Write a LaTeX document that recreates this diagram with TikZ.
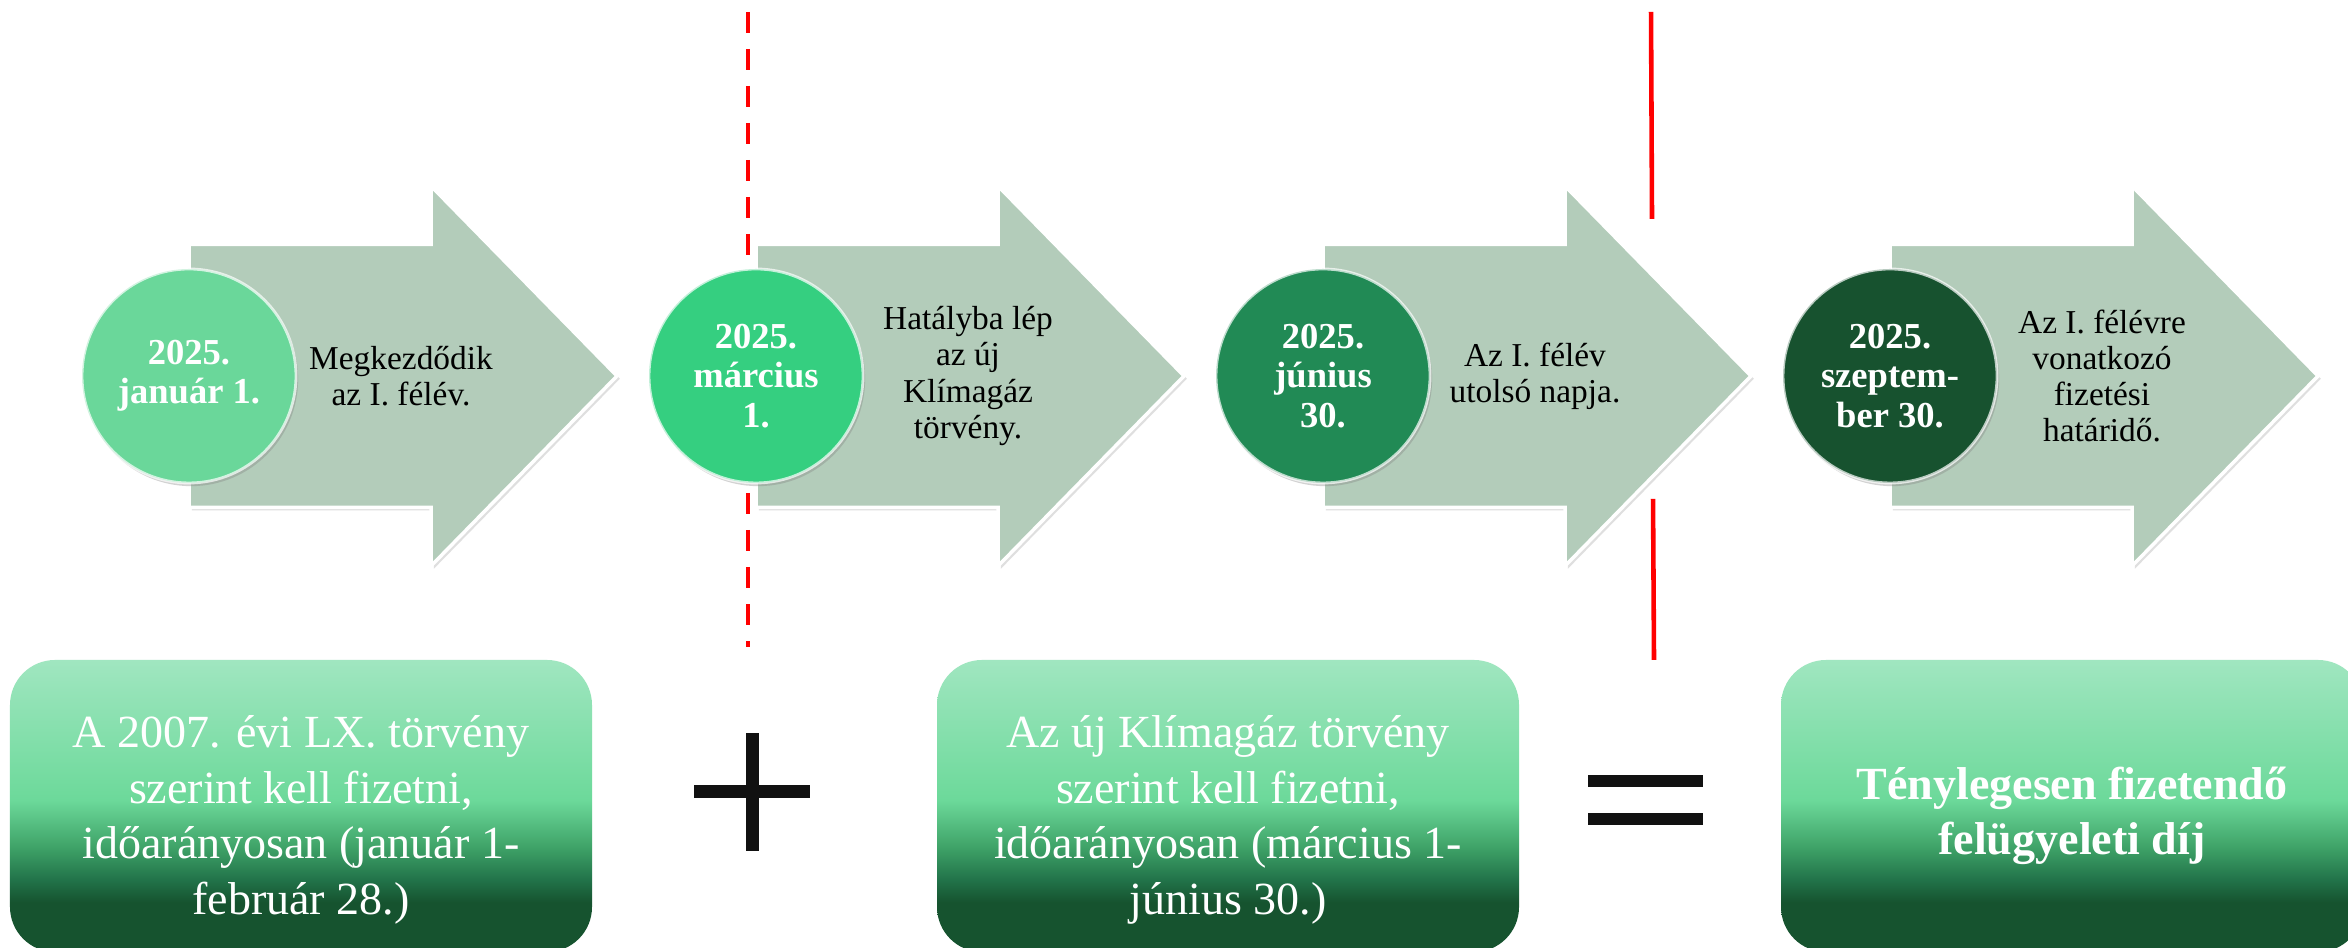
\documentclass[tikz,border=0pt]{standalone}
\usepackage{fontspec}
\setmainfont{Liberation Serif}
\usepackage{xcolor}
\usepackage{tikz}
\usetikzlibrary{
  shadows
}
\definecolor{ArrowGray}{HTML}{B3CCBA}
\definecolor{DateOne}{HTML}{6AD79A}
\definecolor{DateTwo}{HTML}{35CF80}
\definecolor{DateThree}{HTML}{218A55}
\definecolor{DateFour}{HTML}{17522F}
\definecolor{BoxLight}{HTML}{A0E6C0}
\definecolor{BoxGreen}{HTML}{6CD99A}
\definecolor{BoxMid}{HTML}{3FA368}
\definecolor{BoxDeep}{HTML}{22744A}
\definecolor{BoxDark}{HTML}{16532F}
\definecolor{MarkRed}{HTML}{FF0000}
\definecolor{SignBlack}{HTML}{111111}
\pgfdeclareverticalshading{boxfade}{100bp}{color(0bp)=(BoxDark); color(33.5bp)=(BoxDark); color(37.5bp)=(BoxDeep); color(43bp)=(BoxMid); color(51bp)=(BoxGreen); color(75bp)=(BoxLight); color(100bp)=(BoxLight)}
\tikzset{
  stagearrow/.style={
    fill=ArrowGray,
    draw=white,
    line width=1pt,
    drop shadow={
      opacity=0.25,
      shadow xshift=0.8pt,
      shadow yshift=-0.8pt
    }
  },
  datecircle/.style={
    circle,
    minimum size=2.14cm,
    inner sep=0pt,
    draw=white,
    draw opacity=0.7,
    line width=0.8pt,
    text=white,
    align=center,
    font=\fontsize{10.4}{11.2}\selectfont\bfseries,
    drop shadow={
      opacity=0.35,
      shadow xshift=0.6pt,
      shadow yshift=-0.9pt
    }
  },
  stagenote/.style={
    align=center,
    inner sep=1pt,
    font=\fontsize{9.5}{10.3}\selectfont
  },
  sumbox/.style={
    rectangle,
    rounded corners=0.45cm,
    shade,
    shading=boxfade,
    minimum width=5.82cm,
    minimum height=2.92cm
  },
  sumtext/.style={
    text=white,
    align=center,
    inner sep=0pt,
    font=\fontsize{13.1}{15.8}\selectfont
  },
  redmark/.style={
    draw=MarkRed,
    line width=1.3pt
  },
  signbar/.style={
    draw=SignBlack,
    line width=0.13cm
  }
}

\begin{document}
\begin{tikzpicture}

  \useasboundingbox[fill=white] (0,0) rectangle (23.48,9.48);

  % red markers behind the timeline
  \coordinate (cutA top) at (7.48,9.36);
  \coordinate (cutA bottom) at (7.48,3.01);
  \coordinate (cutB top) at (16.51,9.36);
  \coordinate (cutB mid) at (16.52,7.29);
  \coordinate (cutB low) at (16.53,4.49);
  \coordinate (cutB bottom) at (16.54,2.88);

  \draw[
    redmark,
    dash pattern=on 0.21cm off 0.16cm
  ] (cutA top) -- (cutA bottom);
  \draw[redmark] (cutB top) -- (cutB mid);
  \draw[redmark] (cutB low) -- (cutB bottom);

  % timeline arrows
  \draw[stagearrow] (1.89,4.405) -- ++(2.42,0) -- ++(0,-0.585)
    -- ++(1.86,1.90) -- ++(-1.86,1.90) -- ++(0,-0.585) -- ++(-2.42,0) -- cycle;
  \draw[stagearrow] (7.56,4.405) -- ++(2.42,0) -- ++(0,-0.585)
    -- ++(1.86,1.90) -- ++(-1.86,1.90) -- ++(0,-0.585) -- ++(-2.42,0) -- cycle;
  \draw[stagearrow] (13.23,4.405) -- ++(2.42,0) -- ++(0,-0.585)
    -- ++(1.86,1.90) -- ++(-1.86,1.90) -- ++(0,-0.585) -- ++(-2.42,0) -- cycle;
  \draw[stagearrow] (18.90,4.405) -- ++(2.42,0) -- ++(0,-0.585)
    -- ++(1.86,1.90) -- ++(-1.86,1.90) -- ++(0,-0.585) -- ++(-2.42,0) -- cycle;

  % dates
  \node[
    datecircle,
    fill=DateOne
  ] (jan) at (1.89,5.72) {
    2025.\\
    január 1.
  };

  \node[
    datecircle,
    fill=DateTwo
  ] (mar) at (7.56,5.72) {
    2025.\\
    március\\
    1.
  };

  \node[
    datecircle,
    fill=DateThree
  ] (jun) at (13.23,5.72) {
    2025.\\
    június\\
    30.
  };

  \node[
    datecircle,
    fill=DateFour
  ] (sep) at (18.90,5.72) {
    2025.\\
    szeptem-\\
    ber 30.
  };

  % notes on the arrows
  \node[stagenote] (janNote) at ([xshift=2.12cm]jan.center) {
    Megkezdődik\\
    az I. félév.
  };

  \node[stagenote] (marNote) at ([xshift=2.12cm]mar.center) {
    Hatályba lép\\
    az új\\
    Klímagáz\\
    törvény.
  };

  \node[stagenote] (junNote) at ([xshift=2.12cm]jun.center) {
    Az I. félév\\
    utolsó napja.
  };

  \node[stagenote] (sepNote) at ([xshift=2.12cm]sep.center) {
    Az I. félévre\\
    vonatkozó\\
    fizetési\\
    határidő.
  };

  % bottom sum
  \node[sumbox] (oldLaw) at (3.01,1.42) {};
  \node[sumtext] (oldLawText) at ([yshift=-0.14cm]oldLaw.center) {
    A 2007. évi LX. törvény\\
    szerint kell fizetni,\\
    időarányosan (január 1-\\
    február 28.)
  };

  \node[sumbox] (newLaw) at (12.28,1.42) {};
  \node[sumtext] (newLawText) at ([yshift=-0.14cm]newLaw.center) {
    Az új Klímagáz törvény\\
    szerint kell fizetni,\\
    időarányosan (március 1-\\
    június 30.)
  };

  \node[sumbox] (totalFee) at (20.72,1.42) {};
  \node[
    sumtext,
    font=\fontsize{13.1}{15.8}\selectfont\bfseries
  ] (totalFeeText) at ([yshift=-0.1cm]totalFee.center) {
    Ténylegesen fizetendő\\
    felügyeleti díj
  };

  % plus and equals signs
  \draw[signbar] (6.94,1.56) -- (8.10,1.56);
  \draw[signbar] (7.52,0.97) -- (7.52,2.15);
  \draw[signbar, line width=0.12cm] (15.88,1.67) -- (17.03,1.67);
  \draw[signbar, line width=0.12cm] (15.88,1.29) -- (17.03,1.29);

\end{tikzpicture}
\end{document}
